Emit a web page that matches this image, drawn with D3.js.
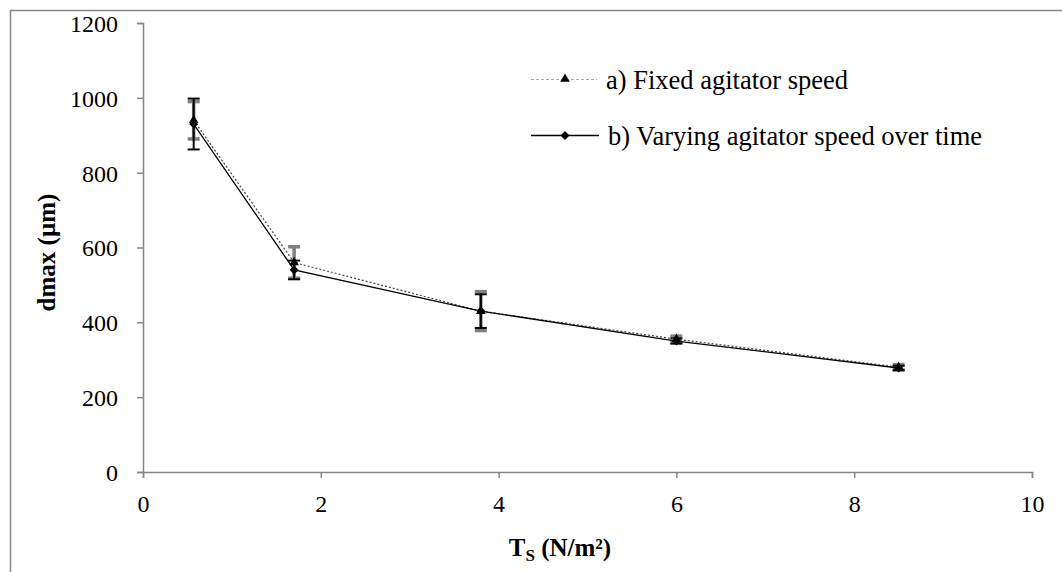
<!DOCTYPE html>
<html>
<head>
<meta charset="utf-8">
<script src="https://cdn.jsdelivr.net/npm/d3@7"></script>
<style>
  body { margin: 0; background: #fff; }
  svg text { font-family: "Liberation Serif", "Times New Roman", serif; }
</style>
</head>
<body>
<div id="chart"></div>
<script>
// shear stress values (N/m2)
const tsValues = [0.57, 1.7, 3.8, 6.0, 8.5];

// a) fixed agitator speed
const fixedDmax = [940, 560, 430, 355, 280];
const fixedErr = [50, 42, 52, 8, 7];

// b) varying agitator speed over time
const varyDmax = [930, 540, 430, 350, 278];
const varyErr = [68, 25, 45, 7, 6];

const xTicks = [0, 2, 4, 6, 8, 10];
const yTicks = [0, 200, 400, 600, 800, 1000, 1200];

const width = 1062, height = 572;
const axisColor = '#868686';

let svg = d3.select('#chart')
  .append('svg')
  .attr('width', width)
  .attr('height', height);

// outer chart frame (runs off the right and bottom edge)
svg.append('rect')
  .attr('x', 10.5).attr('y', 10.5)
  .attr('width', 1100).attr('height', 620)
  .attr('fill', 'none')
  .attr('stroke', axisColor)
  .attr('stroke-width', 1.5);

let xScale = d3.scaleLinear().domain([0, 10]).range([143, 1032]);
let yScale = d3.scaleLinear().domain([0, 1200]).range([472, 23]);

// axes
let xAxis = svg.append('g')
  .attr('transform', `translate(0,${yScale(0)})`)
  .call(d3.axisBottom(xScale).tickValues(xTicks).tickSize(6).tickPadding(17).tickFormat(d3.format('d')));
let yAxis = svg.append('g')
  .attr('transform', `translate(${xScale(0)},0)`)
  .call(d3.axisLeft(yScale).tickValues(yTicks).tickSize(6).tickPadding(19).tickFormat(d3.format('d')));

[xAxis, yAxis].forEach(ax => {
  ax.select('.domain').attr('stroke', axisColor).attr('stroke-width', 1.5);
  ax.selectAll('.tick line').attr('stroke', axisColor).attr('stroke-width', 1.5);
  ax.selectAll('.tick text')
    .attr('fill', '#000')
    .style('font-size', '24px')
    .style('font-family', '"Liberation Serif", serif');
});
yAxis.selectAll('.tick text').attr('dy', '0.35em');

// axis titles
svg.append('text')
  .attr('transform', `translate(46,${(yScale(0) + yScale(1200)) / 2 + 5}) rotate(-90)`)
  .attr('text-anchor', 'middle')
  .attr('dy', '0.35em')
  .style('font-size', '25px')
  .style('font-weight', 'bold')
  .text('dmax (µm)');

let xTitle = svg.append('text')
  .attr('x', 560)
  .attr('y', 556)
  .attr('text-anchor', 'middle')
  .style('font-size', '25px')
  .style('font-weight', 'bold');
xTitle.append('tspan').text('T');
xTitle.append('tspan').attr('dy', 5).style('font-size', '17px').text('S');
xTitle.append('tspan').attr('dy', -5).text(' (N/m²)');

const fixedPts = tsValues.map((t, i) => [t, fixedDmax[i], fixedErr[i]]);
const varyPts = tsValues.map((t, i) => [t, varyDmax[i], varyErr[i]]);

const line = d3.line().x(d => xScale(d[0])).y(d => yScale(d[1]));

// error bars
function errorBars(pts, color, sw, cap) {
  let g = svg.append('g').attr('stroke', color).attr('stroke-width', sw);
  pts.forEach(d => {
    let x = xScale(d[0]);
    let y0 = yScale(d[1] - d[2]), y1 = yScale(d[1] + d[2]);
    g.append('line').attr('x1', x).attr('x2', x).attr('y1', y0).attr('y2', y1);
    g.append('line').attr('x1', x - cap).attr('x2', x + cap).attr('y1', y0).attr('y2', y0);
    g.append('line').attr('x1', x - cap).attr('x2', x + cap).attr('y1', y1).attr('y2', y1);
  });
}
errorBars(fixedPts, '#7f7f7f', 3.5, 6);
errorBars(varyPts, '#000', 2, 6);

// lines
svg.append('path')
  .datum(fixedPts)
  .attr('fill', 'none')
  .attr('stroke', '#444')
  .attr('stroke-width', 1.2)
  .attr('stroke-dasharray', '2,2')
  .attr('d', line);
svg.append('path')
  .datum(varyPts)
  .attr('fill', 'none')
  .attr('stroke', '#000')
  .attr('stroke-width', 1.3)
  .attr('d', line);

const triangle = d3.symbol().type(d3.symbolTriangle).size(40);
const diamond = d3.symbol().type(d3.symbolSquare).size(40);

svg.append('g').selectAll('path')
  .data(fixedPts)
  .join('path')
  .attr('transform', d => `translate(${xScale(d[0])},${yScale(d[1])})`)
  .attr('d', triangle)
  .attr('fill', '#000');
svg.append('g').selectAll('path')
  .data(varyPts)
  .join('path')
  .attr('transform', d => `translate(${xScale(d[0])},${yScale(d[1])}) rotate(45)`)
  .attr('d', diamond)
  .attr('fill', '#000');

// legend
let legend = svg.append('g');
legend.append('line')
  .attr('x1', 531).attr('x2', 597).attr('y1', 79.5).attr('y2', 79.5)
  .attr('stroke', '#9bbb59').attr('stroke-width', 1.2).attr('stroke-dasharray', '3,2');
legend.append('path')
  .attr('transform', 'translate(565,79)')
  .attr('d', triangle)
  .attr('fill', '#000');
legend.append('text')
  .attr('x', 606).attr('y', 80).attr('dy', '0.35em')
  .style('font-size', '26.5px')
  .text('a) Fixed agitator speed');

legend.append('line')
  .attr('x1', 531).attr('x2', 599).attr('y1', 135.5).attr('y2', 135.5)
  .attr('stroke', '#000').attr('stroke-width', 1.3);
legend.append('path')
  .attr('transform', 'translate(565,135.5) rotate(45)')
  .attr('d', diamond)
  .attr('fill', '#000');
legend.append('text')
  .attr('x', 608).attr('y', 136).attr('dy', '0.35em')
  .style('font-size', '26.5px')
  .text('b) Varying agitator speed over time');
</script>
</body>
</html>
